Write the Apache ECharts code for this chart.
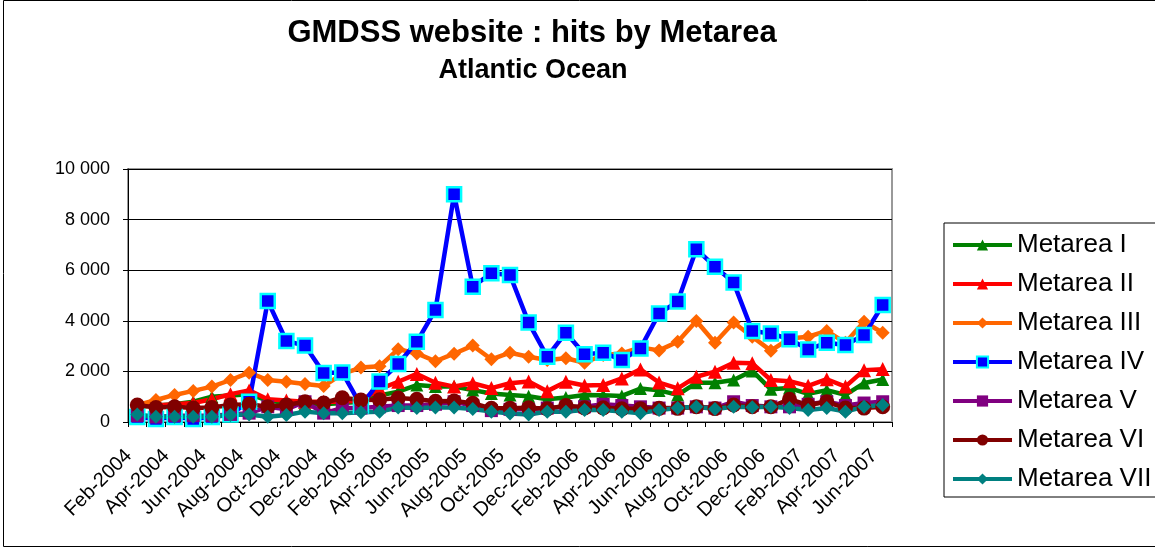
<!DOCTYPE html>
<html>
<head>
<meta charset="utf-8">
<script src="https://cdn.jsdelivr.net/npm/echarts@6/dist/echarts.min.js"></script>
<style>
  html, body { margin: 0; padding: 0; background: #fff; }
  #main { width: 1155px; height: 549px; }
</style>
</head>
<body>
<div id="main"></div>
<script>
var chartDom = document.getElementById('main');
var myChart = echarts.init(chartDom);
var option;

// months Feb-2004 .. Jun-2007
const months = [
  'Feb-2004', 'Mar-2004', 'Apr-2004', 'May-2004', 'Jun-2004', 'Jul-2004', 'Aug-2004', 'Sep-2004', 'Oct-2004', 'Nov-2004', 'Dec-2004',
  'Jan-2005', 'Feb-2005', 'Mar-2005', 'Apr-2005', 'May-2005', 'Jun-2005', 'Jul-2005', 'Aug-2005', 'Sep-2005', 'Oct-2005', 'Nov-2005', 'Dec-2005',
  'Jan-2006', 'Feb-2006', 'Mar-2006', 'Apr-2006', 'May-2006', 'Jun-2006', 'Jul-2006', 'Aug-2006', 'Sep-2006', 'Oct-2006', 'Nov-2006', 'Dec-2006',
  'Jan-2007', 'Feb-2007', 'Mar-2007', 'Apr-2007', 'May-2007', 'Jun-2007'
];

const metareaI = [600, 650, 700, 800, 1000, 1050, 1100, 850, 750, 700, 700, 750, 800, 1050, 1200, 1460, 1400, 1400, 1260, 1130, 1070,
  1020, 900, 970, 1070, 1060, 1030, 1320, 1250, 1070, 1550, 1550, 1660, 2020, 1290, 1340, 1110, 1260, 1070, 1540, 1680];
const metareaII = [650, 650, 700, 750, 900, 1100, 1250, 900, 850, 800, 800, 800, 850, 1300, 1590, 1900, 1550, 1400, 1530, 1340, 1530,
  1600, 1220, 1590, 1440, 1460, 1720, 2080, 1560, 1330, 1790, 1990, 2340, 2320, 1660, 1610, 1430, 1690, 1400, 2050, 2090];
const metareaIII = [670, 870, 1070, 1230, 1400, 1660, 1950, 1660, 1590, 1500, 1420, 1900, 2150, 2200, 2880, 2710, 2400, 2700, 3020, 2480, 2740,
  2580, 2450, 2520, 2340, 2650, 2710, 2950, 2830, 3170, 3990, 3130, 3930, 3370, 2820, 3300, 3370, 3600, 3130, 3960, 3530];
const metareaIV = [200, 120, 200, 120, 200, 300, 800, 4780, 3200, 3020, 1940, 1960, 650, 1600, 2290, 3170, 4430, 9000, 5350, 5880, 5810,
  3930, 2580, 3530, 2680, 2740, 2450, 2910, 4290, 4760, 6830, 6140, 5510, 3600, 3500, 3270, 2870, 3130, 3040, 3440, 4620];
const metareaV = [250, 200, 250, 250, 250, 300, 350, 600, 500, 800, 350, 550, 550, 600, 650, 650, 700, 800, 650, 450, 500,
  500, 550, 600, 600, 700, 650, 600, 550, 550, 600, 550, 800, 650, 600, 600, 700, 800, 650, 750, 800];
const metareaVI = [670, 570, 600, 550, 570, 670, 700, 600, 670, 800, 750, 960, 870, 880, 950, 900, 820, 830, 740, 540, 540,
  560, 520, 650, 560, 560, 520, 520, 540, 540, 600, 530, 670, 600, 600, 900, 670, 800, 550, 550, 600];
const metareaVII = [300, 210, 210, 210, 210, 280, 300, 210, 280, 410, 350, 350, 390, 410, 570, 550, 570, 570, 510, 410, 340,
  300, 410, 410, 470, 470, 410, 350, 470, 550, 600, 510, 600, 580, 600, 550, 470, 550, 410, 600, 670];

const FONT = 'Liberation Sans, Arial, sans-serif';

function fmt(v) {
  return String(v).replace(/\B(?=(\d{3})+(?!\d))/g, ' ');
}

function mkSeries(name, data, color, symbol, size, border) {
  return {
    name: name,
    type: 'line',
    data: data,
    symbol: symbol,
    symbolSize: size,
    showAllSymbol: true,
    lineStyle: { color: color, width: 4.5 },
    itemStyle: { color: color, borderColor: border || color, borderWidth: border ? 2.5 : 0, opacity: 1 },
    emphasis: { disabled: true },
    animation: false
  };
}

option = {
  animation: false,
  textStyle: { fontFamily: FONT },
  graphic: [
    {
      type: 'rect',
      shape: { x: 3.5, y: 0.5, width: 1160, height: 546 },
      style: { fill: 'none', stroke: '#000', lineWidth: 1 }
    },
    {
      type: 'text',
      x: 532,
      y: 33,
      style: {
        text: 'GMDSS website : hits by Metarea',
        font: 'bold 31px ' + FONT,
        textAlign: 'center',
        textVerticalAlign: 'middle',
        fill: '#000'
      }
    },
    {
      type: 'text',
      x: 533,
      y: 71,
      style: {
        text: 'Atlantic Ocean',
        font: 'bold 27px ' + FONT,
        textAlign: 'center',
        textVerticalAlign: 'middle',
        fill: '#000'
      }
    }
  ],
  grid: {
    left: 128,
    right: 263,
    top: 169,
    bottom: 127,
    show: true,
    borderColor: '#999',
    borderWidth: 2,
    backgroundColor: 'transparent'
  },
  legend: {
    orient: 'vertical',
    left: 944,
    top: 223,
    padding: [9, 40, 5, 7],
    itemWidth: 59,
    itemHeight: 14,
    itemGap: 13,
    borderColor: '#000',
    borderWidth: 1,
    lineStyle: { width: 4 },
    textStyle: { fontSize: 26, fontFamily: FONT, color: '#000', lineHeight: 26 },
    data: ['Metarea I', 'Metarea II', 'Metarea III', 'Metarea IV', 'Metarea V', 'Metarea VI', 'Metarea VII']
  },
  xAxis: {
    type: 'category',
    data: months,
    boundaryGap: true,
    axisLine: { lineStyle: { color: '#000', width: 1 } },
    axisTick: { show: true, interval: 0, length: 5, lineStyle: { color: '#000' } },
    axisLabel: {
      interval: 1,
      rotate: 45,
      fontSize: 20,
      color: '#000',
      margin: 8,
      verticalAlign: 'top',
      padding: [0, 22, 0, 0],
      fontFamily: FONT
    },
    splitLine: { show: false }
  },
  yAxis: {
    type: 'value',
    min: 0,
    max: 10000,
    interval: 2000,
    axisLine: { show: true, lineStyle: { color: '#000', width: 1 } },
    axisTick: { show: true, length: 5, lineStyle: { color: '#000' } },
    axisLabel: { fontSize: 18, color: '#000', margin: 18, formatter: fmt, fontFamily: FONT },
    splitLine: { show: true, lineStyle: { color: '#000', width: 1 } }
  },
  series: [
    mkSeries('Metarea I', metareaI, '#008000', 'triangle', 13),
    mkSeries('Metarea II', metareaII, '#FF0000', 'triangle', 14),
    mkSeries('Metarea III', metareaIII, '#FF6600', 'diamond', 14),
    mkSeries('Metarea IV', metareaIV, '#0000FF', 'rect', 14, '#00FFFF'),
    mkSeries('Metarea V', metareaV, '#800080', 'rect', 13),
    mkSeries('Metarea VI', metareaVI, '#800000', 'circle', 15),
    mkSeries('Metarea VII', metareaVII, '#008080', 'diamond', 14)
  ]
};

option && myChart.setOption(option);
</script>
</body>
</html>
